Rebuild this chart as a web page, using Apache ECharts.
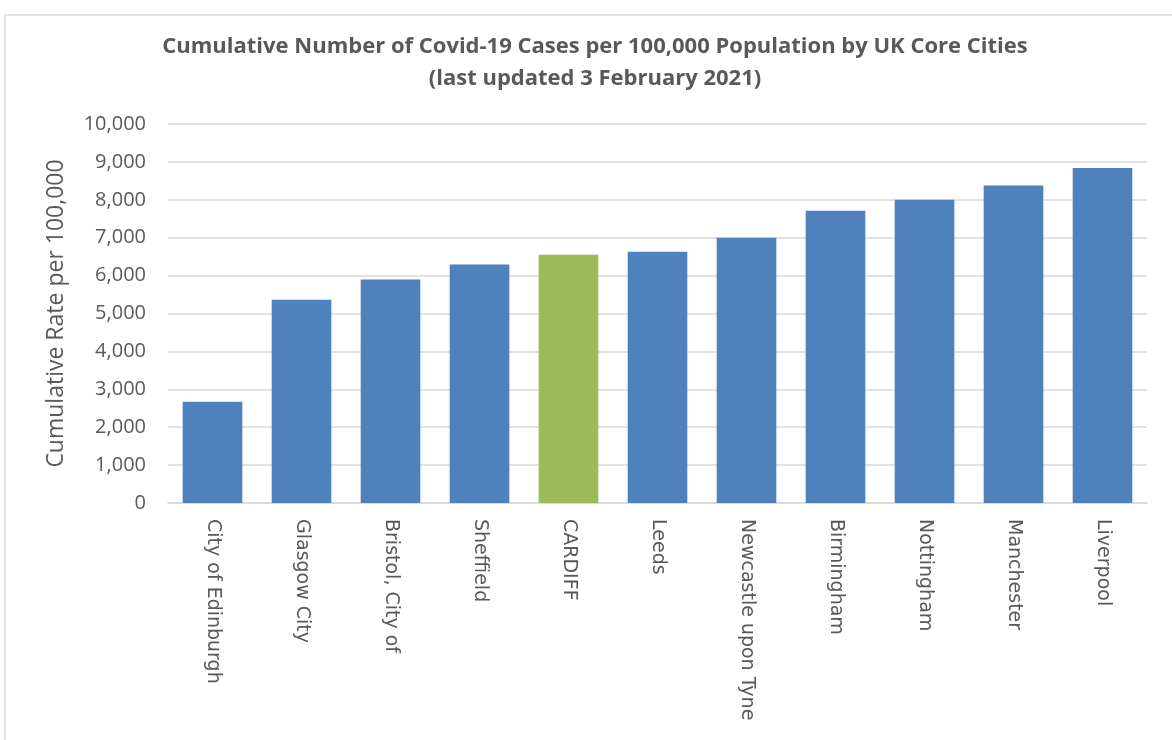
<!DOCTYPE html>
<html>
<head>
<meta charset="utf-8">
<script src="https://cdn.jsdelivr.net/npm/echarts@6/dist/echarts.min.js"></script>
<style>
  html, body { margin: 0; padding: 0; background: #fff; }
  #chart { width: 1172px; height: 740px; }
</style>
</head>
<body>
<div id="chart"></div>
<script>
// data
var cities = ['City of Edinburgh', 'Glasgow City', 'Bristol, City of', 'Sheffield', 'CARDIFF',
  'Leeds', 'Newcastle upon Tyne', 'Birmingham', 'Nottingham', 'Manchester', 'Liverpool'];
var rates = [2670, 5360, 5900, 6290, 6550, 6630, 7000, 7710, 8000, 8380, 8840];
var highlight = 'CARDIFF';

var chart = echarts.init(document.getElementById('chart'));

var option = {
  animation: false,
  graphic: [{
    type: 'rect',
    shape: { x: 5, y: 15, width: 1200, height: 800 },
    style: { fill: 'none', stroke: '#d9d9d9', lineWidth: 1.5 }
  }],
  title: {
    text: 'Cumulative Number of Covid-19 Cases per 100,000 Population by UK Core Cities\n(last updated 3 February 2021)',
    left: 590,
    top: 26,
    textAlign: 'center',
    textStyle: {
      fontFamily: 'Open Sans',
      fontWeight: 'bold',
      fontSize: 22,
      lineHeight: 32,
      color: '#595959'
    }
  },
  grid: { left: 168, right: 25, top: 124, bottom: 237 },
  xAxis: {
    type: 'category',
    data: cities,
    axisLine: { lineStyle: { color: '#d9d9d9', width: 1.5 } },
    axisTick: { show: false },
    axisLabel: {
      rotate: -90,
      margin: 16,
      fontFamily: 'DejaVu Sans',
      fontSize: 19,
      color: '#595959'
    }
  },
  yAxis: {
    type: 'value',
    min: 0,
    max: 10000,
    interval: 1000,
    name: 'Cumulative Rate per 100,000',
    nameLocation: 'middle',
    nameRotate: 90,
    nameGap: 100,
    nameTextStyle: { fontFamily: 'Open Sans', fontSize: 23, color: '#595959' },
    axisLine: { show: false },
    axisTick: { show: false },
    splitLine: { lineStyle: { color: '#d9d9d9', width: 1.5 } },
    axisLabel: {
      margin: 22,
      fontFamily: 'Open Sans',
      fontSize: 20,
      color: '#595959',
      formatter: function (v) { return v.toLocaleString('en-GB'); }
    }
  },
  series: [{
    type: 'bar',
    barCategoryGap: '33%',
    data: rates.map(function (v, i) {
      return {
        value: v,
        itemStyle: { color: cities[i] === highlight ? '#9bbb59' : '#4f81bd' }
      };
    })
  }]
};

chart.setOption(option);
window.onresize = function () { chart.resize(); };
</script>
</body>
</html>
